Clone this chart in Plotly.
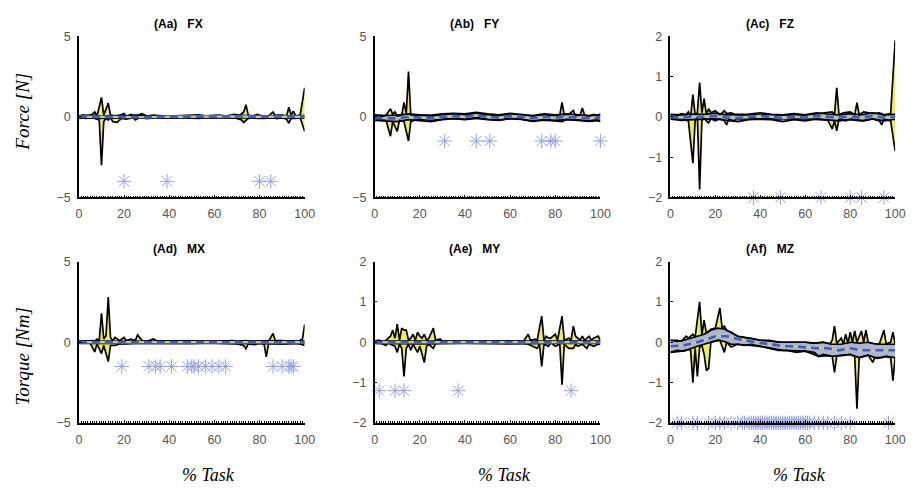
import plotly.graph_objects as go

# ---------------------------------------------------------------
# Mean +/- SD envelopes of the six force / torque components over
# the task cycle (% task).  Each envelope edge is a list of
# (% task, value) pairs.  Stars mark the significant time points.
# ---------------------------------------------------------------

# ---- (Aa) FX ----------------------------------------------------
FX_YEL_HI = [(0,0.05),(2,0.1),(4,0.05),(6,0.15),(7,0.3),(8,0.05),(10,1.2),(11,0.1),(13,0.85),(14,0.1),
             (16,0.05),(18,0.1),(20,0.2),(21,0.0),(23,0.15),(25,0.05),(28,0.2),(30,0.05),(33,0.1),(36,0.05),
             (40,0.05),(45,0.05),(50,0.05),(55,0.05),(60,0.05),(65,0.05),(69,0.15),(71,0.05),(73,0.3),(74,0.75),
             (75,0.1),(77,0.05),(79,0.15),(81,0.05),(84,0.05),(86,0.3),(87,0.05),(90,0.1),(92,0.05),(93,0.6),
             (94,0.1),(95,0.35),(96,0.05),(98,0.1),(100,1.8)]
FX_YEL_LO = [(0,-0.05),(3,-0.1),(5,-0.05),(7,-0.1),(9,-0.2),(10,-3.0),(11,-0.3),(12,-0.1),(13,-0.2),(14,-0.05),
             (15,-0.3),(17,-0.35),(18,-0.2),(19,-0.1),(21,-0.15),(24,-0.05),(25,-0.2),(27,-0.05),(30,-0.1),(35,-0.05),
             (40,-0.05),(50,-0.05),(60,-0.05),(68,-0.05),(70,-0.1),(72,-0.2),(73,-0.35),(75,-0.1),(78,-0.05),(82,-0.1),
             (85,-0.05),(88,-0.1),(90,-0.05),(92,-0.15),(93,-0.4),(94,-0.1),(96,-0.1),(98,-0.05),(100,-0.9)]
FX_GRY_HI = [(0,0.08),(5,0.1),(10,0.05),(15,0.08),(20,0.06),(25,0.1),(30,0.05),(35,0.08),(40,0.05),(45,0.06),
             (50,0.1),(53,0.12),(56,0.06),(62,0.1),(66,0.05),(70,0.12),(75,0.06),(80,0.08),(85,0.05),(88,0.1),
             (92,0.06),(96,0.08),(100,0.08)]
FX_GRY_LO = [(0,-0.08),(5,-0.06),(10,-0.1),(15,-0.06),(20,-0.08),(25,-0.05),(30,-0.1),(35,-0.06),(40,-0.08),
             (45,-0.05),(50,-0.08),(53,-0.1),(56,-0.05),(62,-0.08),(66,-0.06),(70,-0.08),(75,-0.05),(80,-0.1),
             (85,-0.06),(88,-0.1),(92,-0.05),(96,-0.08),(100,-0.06)]
FX_MEAN = [(0,0.0),(10,-0.02),(20,0.0),(30,-0.02),(40,0.0),(52,0.02),(60,0.0),(70,0.02),(80,0.0),(90,0.0),(100,0.0)]
FX_STARS = [20, 39, 80, 85]

# ---- (Ab) FY ----------------------------------------------------
FY_YEL_HI = [(0,0.05),(3,0.0),(5,0.1),(7,0.5),(8,0.15),(9,0.3),(10,0.05),(12,0.1),(13,0.9),(14,0.2),(15,2.8),
             (16,0.1),(18,0.05),(20,0.1),(25,0.05),(30,0.1),(35,0.15),(40,0.1),(45,0.2),(50,0.1),(55,0.05),
             (60,0.15),(65,0.1),(70,0.05),(75,0.1),(80,0.05),(82,0.1),(83,0.9),(84,0.1),(86,0.15),(88,0.4),
             (89,0.05),(91,0.1),(92,0.55),(93,0.1),(95,0.05),(97,0.15),(99,0.05),(100,0.2)]
FY_YEL_LO = [(0,-0.1),(3,-0.15),(5,-0.2),(7,-1.2),(8,-0.3),(10,-0.9),(11,-0.2),(13,-0.3),(15,-1.5),(16,-0.3),
             (18,-0.2),(20,-0.15),(25,-0.2),(30,-0.15),(35,-0.1),(40,-0.15),(45,-0.05),(50,-0.15),(55,-0.2),
             (60,-0.1),(65,-0.15),(70,-0.25),(75,-0.2),(80,-0.25),(83,-0.3),(85,-0.15),(90,-0.2),(95,-0.25),
             (98,-0.15),(100,-0.3)]
FY_GRY_HI = [(0,0.12),(5,0.08),(10,0.1),(15,0.18),(20,0.12),(25,0.1),(30,0.18),(35,0.22),(40,0.18),(45,0.28),
             (50,0.18),(55,0.12),(60,0.22),(65,0.16),(70,0.08),(75,0.18),(80,0.12),(85,0.18),(90,0.12),(95,0.08),
             (100,0.12)]
FY_GRY_LO = [(0,-0.22),(5,-0.28),(10,-0.3),(15,-0.18),(20,-0.22),(25,-0.3),(30,-0.18),(35,-0.12),(40,-0.18),
             (45,-0.1),(50,-0.18),(55,-0.22),(60,-0.12),(65,-0.16),(70,-0.28),(75,-0.18),(80,-0.22),(85,-0.18),
             (90,-0.22),(95,-0.28),(100,-0.22)]
FY_MEAN = [(0,-0.05),(5,-0.1),(10,-0.1),(15,0.0),(20,-0.05),(25,-0.1),(30,0.0),(35,0.05),(40,0.0),(45,0.1),
           (50,0.0),(55,-0.05),(60,0.05),(65,0.0),(70,-0.1),(75,0.0),(80,-0.05),(85,0.0),(90,-0.05),(95,-0.1),
           (100,-0.05)]
FY_STARS = [31, 45, 51, 74, 78, 80, 100]

# ---- (Ac) FZ ----------------------------------------------------
FZ_YEL_HI = [(0,0.05),(3,0.03),(5,0.08),(7,0.05),(8,0.12),(9,0.0),(10,0.55),(11,0.05),(12,0.1),(13,0.85),
             (14,0.1),(15,0.45),(16,0.05),(17,0.2),(18,0.1),(20,0.15),(22,0.05),(24,0.15),(25,0.08),(27,0.1),
             (29,0.05),(32,0.05),(40,0.04),(50,0.05),(60,0.05),(66,0.08),(70,0.1),(72,0.12),(73,0.05),(74,0.72),
             (75,0.05),(77,0.1),(80,0.12),(82,0.05),(83,0.35),(84,0.05),(86,0.12),(88,0.1),(90,0.08),(93,0.1),
             (95,0.05),(98,0.08),(100,1.9)]
FZ_YEL_LO = [(0,-0.03),(5,-0.05),(8,-0.1),(10,-1.15),(11,-0.1),(12,0.0),(13,-1.8),(14,-0.1),(15,0.0),(16,-0.1),
             (17,-0.15),(18,-0.05),(20,-0.1),(22,-0.05),(24,-0.1),(25,-0.2),(26,-0.05),(28,-0.1),(30,-0.05),
             (40,-0.05),(50,-0.06),(60,-0.05),(70,-0.08),(72,-0.3),(73,-0.1),(74,-0.35),(75,-0.05),(78,-0.1),
             (80,-0.05),(83,-0.08),(86,-0.1),(90,-0.05),(93,-0.1),(94,-0.2),(95,-0.05),(98,-0.1),(100,-0.85)]
FZ_GRY_HI = [(0,0.06),(5,0.05),(10,0.07),(15,0.06),(20,0.09),(25,0.05),(30,0.06),(35,0.07),(40,0.1),(45,0.06),
             (50,0.05),(55,0.08),(60,0.05),(65,0.1),(70,0.07),(75,0.05),(80,0.08),(85,0.05),(90,0.1),(95,0.05),
             (100,0.06)]
FZ_GRY_LO = [(0,-0.06),(5,-0.09),(10,-0.07),(15,-0.06),(20,-0.05),(25,-0.09),(30,-0.12),(35,-0.07),(40,-0.06),
             (45,-0.07),(50,-0.12),(55,-0.07),(60,-0.1),(65,-0.05),(70,-0.07),(75,-0.1),(80,-0.07),(85,-0.1),
             (90,-0.05),(95,-0.1),(100,-0.06)]
FZ_MEAN = [(0,0.0),(5,-0.02),(10,0.0),(15,0.0),(20,0.02),(25,-0.02),(30,-0.03),(35,0.0),(40,0.02),(45,0.0),
           (50,-0.03),(55,0.0),(60,-0.02),(65,0.02),(70,0.0),(75,-0.02),(80,0.0),(85,-0.02),(90,0.02),(95,-0.02),
           (100,0.0)]
FZ_STARS = [37, 49, 67, 80, 85, 95]

# ---- (Ad) MX ----------------------------------------------------
MX_YEL_HI = [(0,0.05),(3,0.05),(6,0.1),(7,0.05),(8,0.2),(9,0.1),(10,1.8),(11,0.2),(12,0.4),(13,2.8),(14,0.3),
             (15,0.1),(16,0.3),(18,0.1),(20,0.3),(21,0.1),(23,0.2),(25,0.1),(26,0.45),(28,0.1),(30,0.05),(33,0.2),
             (35,0.05),(40,0.05),(50,0.05),(60,0.05),(68,0.1),(70,0.05),(74,0.1),(76,0.05),(80,0.05),(83,0.1),
             (84,0.05),(86,0.55),(87,0.1),(90,0.1),(94,0.05),(97,0.05),(99,0.2),(100,1.1)]
MX_YEL_LO = [(0,-0.05),(5,-0.05),(7,-0.6),(8,-0.1),(10,-0.7),(11,-0.2),(13,-1.2),(14,-0.2),(16,-0.2),(18,-0.1),
             (20,-0.1),(25,-0.05),(30,-0.05),(40,-0.05),(50,-0.05),(60,-0.05),(70,-0.1),(73,-0.2),(74,-0.4),
             (75,-0.1),(78,-0.15),(80,-0.05),(82,-0.1),(83,-0.9),(84,-0.1),(86,-0.05),(90,-0.1),(95,-0.05),
             (98,-0.1),(100,-0.2)]
MX_GRY_HI = [(0,0.07),(10,0.06),(20,0.08),(30,0.06),(40,0.08),(50,0.06),(60,0.07),(70,0.06),(80,0.08),(90,0.06),
             (100,0.07)]
MX_GRY_LO = [(0,-0.07),(10,-0.08),(20,-0.06),(30,-0.08),(40,-0.1),(50,-0.08),(60,-0.06),(70,-0.08),(80,-0.06),
             (90,-0.1),(100,-0.07)]
MX_MEAN = [(0,0.0),(20,0.0),(40,-0.02),(60,0.0),(80,0.0),(90,-0.02),(100,0.0)]
MX_STARS = [19, 31, 34, 36, 41, 48, 50, 51, 53, 56, 59, 62, 65, 86, 90, 93, 94, 95]

# ---- (Ae) MY ----------------------------------------------------
MY_YEL_HI = [(0,0.03),(2,0.05),(4,0.0),(5,0.05),(7,0.15),(8,0.3),(9,0.1),(10,0.45),(11,0.05),(12,0.35),(13,0.3),
             (14,0.3),(15,0.05),(16,0.1),(17,0.2),(18,0.05),(19,0.25),(20,0.15),(21,0.1),(22,0.2),(23,0.05),
             (24,0.1),(26,0.35),(27,0.05),(29,0.08),(30,0.03),(35,0.02),(40,0.02),(50,0.02),(60,0.02),(66,0.03),
             (68,0.2),(69,0.05),(71,0.08),(72,0.05),(74,0.65),(75,0.05),(76,0.15),(77,0.1),(78,0.1),(80,0.2),
             (81,0.05),(83,0.65),(84,0.05),(86,0.1),(87,0.05),(88,0.4),(89,0.15),(90,0.1),(91,0.05),(92,0.15),
             (93,0.05),(95,0.15),(96,0.05),(97,0.1),(99,0.15),(100,0.05)]
MY_YEL_LO = [(0,-0.02),(3,-0.03),(5,-0.08),(6,0.0),(7,-0.05),(9,-0.1),(10,-0.25),(11,-0.05),(12,-0.15),(13,-0.85),
             (14,-0.15),(15,-0.05),(16,-0.2),(17,-0.05),(18,-0.15),(19,-0.25),(20,-0.1),(22,-0.5),(23,-0.1),
             (24,-0.05),(26,-0.15),(27,-0.03),(30,-0.02),(40,-0.02),(50,-0.02),(60,-0.02),(66,-0.02),(68,-0.05),
             (70,-0.1),(72,-0.15),(73,-0.05),(74,-0.6),(75,-0.05),(77,-0.1),(78,0.0),(80,-0.1),(82,-0.05),
             (83,-1.05),(84,-0.05),(86,-0.15),(88,-0.15),(89,-0.05),(90,-0.1),(92,-0.05),(94,-0.15),(95,-0.05),
             (97,-0.1),(99,-0.05),(100,-0.05)]
MY_GRY_HI = [(0,0.03),(20,0.03),(40,0.02),(60,0.03),(80,0.02),(100,0.03)]
MY_GRY_LO = [(0,-0.03),(20,-0.04),(40,-0.03),(60,-0.04),(80,-0.03),(100,-0.03)]
MY_MEAN = [(0,0.0),(50,0.0),(100,0.0)]
MY_STARS = [2, 9, 13, 37, 87]

# ---- (Af) MZ ----------------------------------------------------
MZ_YEL_HI = [(0,0.05),(3,0.05),(5,0.03),(7,0.15),(8,0.1),(10,0.2),(11,0.12),(13,1.0),(14,0.18),(15,0.55),(16,0.22),
             (18,0.32),(20,0.35),(22,0.85),(23,0.36),(24,0.4),(25,0.3),(27,0.25),(30,0.15),(35,0.1),(40,0.05),
             (50,0.0),(60,0.0),(64,-0.02),(68,0.0),(71,-0.04),(72,0.05),(73,0.4),(74,-0.03),(76,0.1),(77,-0.04),
             (78,0.2),(79,-0.03),(80,0.25),(81,0.0),(82,0.28),(83,0.0),(85,0.28),(86,0.0),(87,0.3),(88,0.0),
             (90,-0.03),(93,-0.04),(95,0.3),(96,-0.04),(98,0.0),(99,0.25),(100,-0.05)]
MZ_YEL_LO = [(0,-0.25),(5,-0.22),(8,-0.18),(9,-0.2),(10,-1.0),(11,-0.15),(12,-0.85),(13,-0.12),(14,-0.08),(15,-0.3),
             (16,-0.7),(17,-0.65),(18,0.0),(20,0.03),(22,0.05),(24,-0.25),(25,0.0),(27,-0.12),(30,-0.05),
             (40,-0.1),(50,-0.2),(60,-0.22),(66,-0.35),(70,-0.33),(72,-0.35),(73,-0.75),(74,-0.34),(78,-0.32),
             (80,-0.3),(82,-0.36),(83,-1.65),(84,-0.38),(86,-0.35),(88,-0.32),(90,-0.5),(91,-0.38),(94,-0.38),
             (96,-0.35),(98,-0.38),(99,-0.95),(100,-0.38)]
MZ_GRY_HI = [(0,0.05),(3,0.02),(6,0.05),(9,0.1),(12,0.15),(15,0.2),(18,0.3),(21,0.35),(24,0.33),(27,0.25),
             (30,0.15),(33,0.12),(36,0.1),(40,0.05),(44,0.05),(48,0.0),(52,0.0),(56,0.0),(60,0.0),(64,-0.02),
             (68,0.0),(72,-0.05),(76,-0.05),(80,0.0),(84,-0.02),(88,0.0),(92,-0.05),(96,-0.05),(100,-0.05)]
MZ_GRY_LO = [(0,-0.25),(3,-0.2),(6,-0.22),(9,-0.15),(12,-0.1),(15,-0.05),(18,0.0),(21,0.05),(24,0.02),(27,-0.05),
             (30,-0.05),(33,-0.08),(36,-0.05),(40,-0.1),(44,-0.15),(48,-0.2),(52,-0.2),(56,-0.25),(60,-0.22),
             (64,-0.25),(66,-0.35),(68,-0.3),(72,-0.35),(76,-0.32),(80,-0.3),(84,-0.38),(88,-0.32),(92,-0.4),
             (96,-0.35),(100,-0.38)]
MZ_MEAN = [(0,-0.1),(5,-0.08),(10,-0.03),(15,0.05),(20,0.15),(25,0.15),(30,0.08),(35,0.03),(40,-0.02),(45,-0.05),
           (50,-0.1),(55,-0.1),(60,-0.12),(65,-0.15),(70,-0.15),(75,-0.2),(80,-0.15),(85,-0.2),(90,-0.2),
           (95,-0.2),(100,-0.2)]
MZ_STARS = [3, 5, 10, 12, 17, 20, 22, 24, 27, 30, 32, 33, 35, 36, 37, 38, 39, 40, 41, 42, 43, 44, 45, 46, 47,
            48, 49, 50, 51, 52, 53, 54, 55, 56, 57, 58, 59, 60, 61, 62, 64, 66, 68, 70, 73, 76, 80, 97]

# ---- panel labels, ranges and star heights ------------------------
TITLES = ["(Aa)   FX", "(Ab)   FY", "(Ac)   FZ", "(Ad)   MX", "(Ae)   MY", "(Af)   MZ"]
Y_LIMITS = [5, 5, 2, 5, 2, 2]
STAR_LEVEL = [-4, -1.5, -2, -1.5, -1.2, -2]
X_TICKS = [0, 20, 40, 60, 80, 100]
Y_TICKS = {5: [-5, 0, 5], 2: [-2, -1, 0, 1, 2]}

PANELS = [
    (FX_YEL_HI, FX_YEL_LO, FX_GRY_HI, FX_GRY_LO, FX_MEAN, FX_STARS),
    (FY_YEL_HI, FY_YEL_LO, FY_GRY_HI, FY_GRY_LO, FY_MEAN, FY_STARS),
    (FZ_YEL_HI, FZ_YEL_LO, FZ_GRY_HI, FZ_GRY_LO, FZ_MEAN, FZ_STARS),
    (MX_YEL_HI, MX_YEL_LO, MX_GRY_HI, MX_GRY_LO, MX_MEAN, MX_STARS),
    (MY_YEL_HI, MY_YEL_LO, MY_GRY_HI, MY_GRY_LO, MY_MEAN, MY_STARS),
    (MZ_YEL_HI, MZ_YEL_LO, MZ_GRY_HI, MZ_GRY_LO, MZ_MEAN, MZ_STARS),
]

# ---- styling ------------------------------------------------------
W, H = 917, 496
YELLOW = "#efec5c"
GREY = "#aeb6cf"
BLUE = "#3c5ccc"
KHAKI = "#c8c690"
STAR = "#95a0e4"
TICK_FONT = dict(family="Arial, Liberation Sans, sans-serif", size=12.5, color="#555555")

# panel frames in pixels: (left, right) columns and (top, bottom) rows
COLS = [(77, 306), (377, 606), (677, 905)]
ROWS = [(30, 196), (262, 428)]


def split(pairs):
    xs = [p[0] for p in pairs]
    ys = [p[1] for p in pairs]
    return xs, ys


fig = go.Figure()
layout = dict(
    width=W, height=H, margin=dict(l=0, r=0, t=0, b=0),
    paper_bgcolor="white", plot_bgcolor="white", showlegend=False,
)
annotations = []

for i, (yhi, ylo, ghi, glo, mean, stars) in enumerate(PANELS):
    r, c = divmod(i, 3)
    n = "" if i == 0 else str(i + 1)
    xa, ya = "x" + n, "y" + n
    lim = Y_LIMITS[i]

    yhx, yhy = split(yhi)
    ylx, yly = split(ylo)
    ghx, ghy = split(ghi)
    glx, gly = split(glo)
    mx, my = split(mean)

    # yellow envelope
    fig.add_trace(go.Scatter(x=yhx + ylx[::-1], y=yhy + yly[::-1], fill="toself", fillcolor=YELLOW,
                             mode="none", xaxis=xa, yaxis=ya, hoverinfo="skip"))
    # grey envelope
    fig.add_trace(go.Scatter(x=ghx + glx[::-1], y=ghy + gly[::-1], fill="toself", fillcolor=GREY,
                             mode="none", xaxis=xa, yaxis=ya, hoverinfo="skip"))
    # black edges of both envelopes
    for ex, ey in ((ghx, ghy), (glx, gly), (yhx, yhy), (ylx, yly)):
        fig.add_trace(go.Scatter(x=ex, y=ey, mode="lines", line=dict(color="black", width=1.7),
                                 xaxis=xa, yaxis=ya, hoverinfo="skip"))
    # mean curves
    fig.add_trace(go.Scatter(x=mx, y=my, mode="lines", line=dict(color=KHAKI, width=2.4),
                             xaxis=xa, yaxis=ya, hoverinfo="skip"))
    fig.add_trace(go.Scatter(x=mx, y=my, mode="lines", line=dict(color=BLUE, width=2.6, dash="8px,5px"),
                             xaxis=xa, yaxis=ya, hoverinfo="skip"))
    # significance stars
    fig.add_trace(go.Scatter(x=stars, y=[STAR_LEVEL[i]] * len(stars), mode="markers",
                             marker=dict(symbol="asterisk-open", size=12, color=STAR,
                                         line=dict(color=STAR, width=1)),
                             xaxis=xa, yaxis=ya, cliponaxis=False, hoverinfo="skip"))

    x0, x1 = COLS[c]
    top, bot = ROWS[r]
    key_x = "xaxis" + n
    key_y = "yaxis" + n
    layout[key_x] = dict(
        domain=[x0 / W, x1 / W], range=[0, 100], anchor=ya,
        showline=True, linecolor="black", linewidth=1.5, mirror=False,
        showgrid=False, zeroline=False,
        ticks="inside", ticklen=3, tickwidth=1, tickcolor="black",
        tickvals=X_TICKS, tickfont=TICK_FONT, ticklabelstandoff=4,
        minor=dict(ticks="inside", ticklen=2, tickwidth=1, tickcolor="black", dtick=1, showgrid=False),
    )
    layout[key_y] = dict(
        domain=[1 - bot / H, 1 - top / H], range=[-lim, lim], anchor=xa,
        showline=True, linecolor="black", linewidth=1.5, mirror=False,
        showgrid=False, zeroline=False,
        ticks="inside", ticklen=3, tickwidth=1, tickcolor="black",
        tickvals=Y_TICKS[lim], tickfont=TICK_FONT, ticklabelstandoff=4,
    )

    # panel title
    annotations.append(dict(text="<b>" + TITLES[i] + "</b>", xref="paper", yref="paper",
                            x=((x0 + x1) / 2 - 13) / W, y=1 - (top - 13) / H,
                            showarrow=False, xanchor="center", yanchor="middle",
                            font=dict(family="Arial, Liberation Sans, sans-serif", size=12, color="black")))
    if r == 1:
        annotations.append(dict(text="% Task", xref="paper", yref="paper",
                                x=((x0 + x1) / 2 + 17) / W, y=1 - 482 / H,
                                showarrow=False, xanchor="center", yanchor="middle",
                                font=dict(family="Liberation Serif, Times New Roman, serif", size=18,
                                          color="black", style="italic")))

SERIF = dict(family="Liberation Serif, Times New Roman, serif", size=19, color="black", style="italic")
annotations.append(dict(text="Force [N]", xref="paper", yref="paper", x=20 / W, y=1 - 108 / H,
                        showarrow=False, textangle=-90, xanchor="center", yanchor="middle", font=SERIF))
annotations.append(dict(text="Torque [Nm]", xref="paper", yref="paper", x=20 / W, y=1 - 360 / H,
                        showarrow=False, textangle=-90, xanchor="center", yanchor="middle", font=SERIF))

layout["annotations"] = annotations
fig.update_layout(**layout)
fig.write_html("out.html")
